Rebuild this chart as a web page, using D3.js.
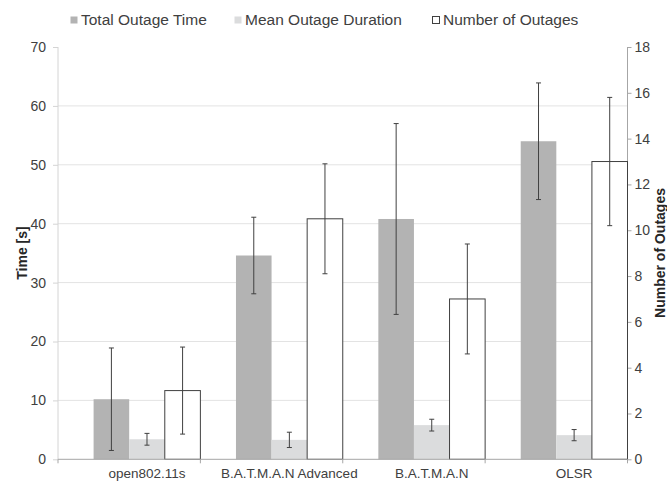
<!DOCTYPE html>
<meta charset="utf-8">
<style>
body { margin: 0; background: #fff; }
text { font-family: "Liberation Sans", Arial, Helvetica, sans-serif; fill: #404040; }
.title { font-size: 14px; font-weight: bold; fill: #262626; }
.tick text { font-size: 14px; }
.legend text { font-size: 15.5px; }
</style>
<svg width="667" height="486"></svg>
<script src="https://d3js.org/d3.v7.min.js"></script>
<script>

var categories = ["open802.11s", "B.A.T.M.A.N Advanced", "B.A.T.M.A.N", "OLSR"];
var seriesNames = ["Total Outage Time", "Mean Outage Duration", "Number of Outages"];
var totalTime = [10.2, 34.6, 40.8, 54.0];
var totalTimeErr = [8.7, 6.5, 16.2, 9.9];
var meanDuration = [3.4, 3.3, 5.8, 4.1];
var meanDurationErr = [1.0, 1.3, 1.0, 0.95];
var outages = [3, 10.5, 7, 13];
var outagesErr = [1.9, 2.4, 2.4, 2.8];
var timeTicks = [0, 10, 20, 30, 40, 50, 60, 70];
var countTicks = [0, 2, 4, 6, 8, 10, 12, 14, 16, 18];

var svg = d3.select("svg"),
    plotLeft = 58, plotRight = 627.5, plotTop = 47, plotBottom = 459.3;

var x0 = d3.scaleBand().domain(categories).range([plotLeft, plotRight]);
var bw = x0.bandwidth();
var x1 = d3.scaleBand().domain(seriesNames).range([bw * 0.25, bw]);

var yTime = d3.scaleLinear().domain([0, 70]).range([plotBottom, plotTop]);
var yCount = d3.scaleLinear().domain([0, 18]).range([plotBottom, plotTop]);

var series = [
  { name: seriesNames[0], values: totalTime, errs: totalTimeErr, y: yTime, fill: "#b3b3b3", stroke: "none" },
  { name: seriesNames[1], values: meanDuration, errs: meanDurationErr, y: yTime, fill: "#dbdcdd", stroke: "none" },
  { name: seriesNames[2], values: outages, errs: outagesErr, y: yCount, fill: "#fff", stroke: "#404040" }
];

// gridlines
svg.append("g")
  .selectAll("line")
  .data(timeTicks.filter(function(d) { return d > 0 && d < 70; }))
  .enter().append("line")
    .attr("x1", plotLeft).attr("x2", plotRight)
    .attr("y1", function(d) { return yTime(d); })
    .attr("y2", function(d) { return yTime(d); })
    .attr("stroke", "#e3e3e3");

// left axis
var leftAxis = svg.append("g")
    .attr("transform", "translate(" + plotLeft + ",0)")
    .call(d3.axisLeft(yTime).tickValues(timeTicks).tickSize(5).tickPadding(7));
leftAxis.selectAll("line, path").attr("stroke", "#d4d4d4");
leftAxis.select(".domain").attr("d", "M0," + plotTop + "V" + plotBottom);

// right axis
var rightAxis = svg.append("g")
    .attr("transform", "translate(" + plotRight + ",0)")
    .call(d3.axisRight(yCount).tickValues(countTicks).tickSize(4).tickPadding(3));
rightAxis.selectAll("line, path").attr("stroke", "#a6a6a6");
rightAxis.select(".domain").attr("d", "M0," + plotTop + "V" + plotBottom);

leftAxis.attr("font-family", null).attr("font-size", null);
rightAxis.attr("font-family", null).attr("font-size", null);
svg.selectAll(".tick text").attr("fill", "#404040");

// bars
var groups = svg.append("g")
  .selectAll("g")
  .data(categories)
  .enter().append("g")
    .attr("transform", function(d) { return "translate(" + x0(d) + ",0)"; });

series.forEach(function(s) {
  groups.append("rect")
      .attr("x", x1(s.name))
      .attr("width", x1.bandwidth())
      .attr("y", function(d, i) { return s.y(s.values[i]); })
      .attr("height", function(d, i) { return plotBottom - s.y(s.values[i]); })
      .attr("fill", s.fill)
      .attr("stroke", s.stroke)
      .attr("stroke-width", 1);
});

// bottom axis
svg.append("line")
    .attr("x1", plotLeft).attr("x2", plotRight)
    .attr("y1", plotBottom).attr("y2", plotBottom)
    .attr("stroke", "#a6a6a6");
svg.append("g")
  .selectAll("line")
  .data(categories.concat([null]))
  .enter().append("line")
    .attr("x1", function(d) { return d ? x0(d) : plotRight; })
    .attr("x2", function(d) { return d ? x0(d) : plotRight; })
    .attr("y1", plotBottom).attr("y2", plotBottom + 4)
    .attr("stroke", "#a6a6a6");

// error bars
series.forEach(function(s) {
  var cx = function(d) { return x0(d) + x1(s.name) + x1.bandwidth() / 2; };
  var err = svg.append("g").attr("stroke", "#404040").attr("stroke-width", 1);
  err.selectAll(".v").data(categories).enter().append("line")
      .attr("x1", cx).attr("x2", cx)
      .attr("y1", function(d, i) { return s.y(s.values[i] + s.errs[i]); })
      .attr("y2", function(d, i) { return s.y(s.values[i] - s.errs[i]); });
  [1, -1].forEach(function(sign) {
    err.selectAll(".c" + sign).data(categories).enter().append("line")
        .attr("x1", function(d) { return cx(d) - 2.5; })
        .attr("x2", function(d) { return cx(d) + 2.5; })
        .attr("y1", function(d, i) { return s.y(s.values[i] + sign * s.errs[i]); })
        .attr("y2", function(d, i) { return s.y(s.values[i] + sign * s.errs[i]); });
  });
});

// category labels
svg.append("g")
  .selectAll("text")
  .data(categories)
  .enter().append("text")
    .attr("x", function(d) { return x0(d) + bw * 0.625; })
    .attr("y", 478)
    .attr("text-anchor", "middle")
    .style("font-size", "13.5px")
    .text(function(d) { return d; });

// axis titles
svg.append("text")
    .attr("class", "title")
    .attr("transform", "translate(27,253) rotate(-90)")
    .attr("text-anchor", "middle")
    .text("Time [s]");
svg.append("text")
    .attr("class", "title")
    .attr("transform", "translate(665,253) rotate(-90)")
    .attr("text-anchor", "middle")
    .text("Number of Outages");

// legend
var legendX = [70, 234, 432];
var legend = svg.append("g").attr("class", "legend")
  .selectAll("g")
  .data(series)
  .enter().append("g")
    .attr("transform", function(d, i) { return "translate(" + legendX[i] + ",0)"; });
legend.append("rect")
    .attr("x", 0.5).attr("y", 16.5)
    .attr("width", 7).attr("height", 7)
    .attr("fill", function(d) { return d.fill; })
    .attr("stroke", function(d) { return d.stroke; });
legend.append("text")
    .attr("x", 11)
    .attr("y", 25)
    .text(function(d) { return d.name; });

</script>
